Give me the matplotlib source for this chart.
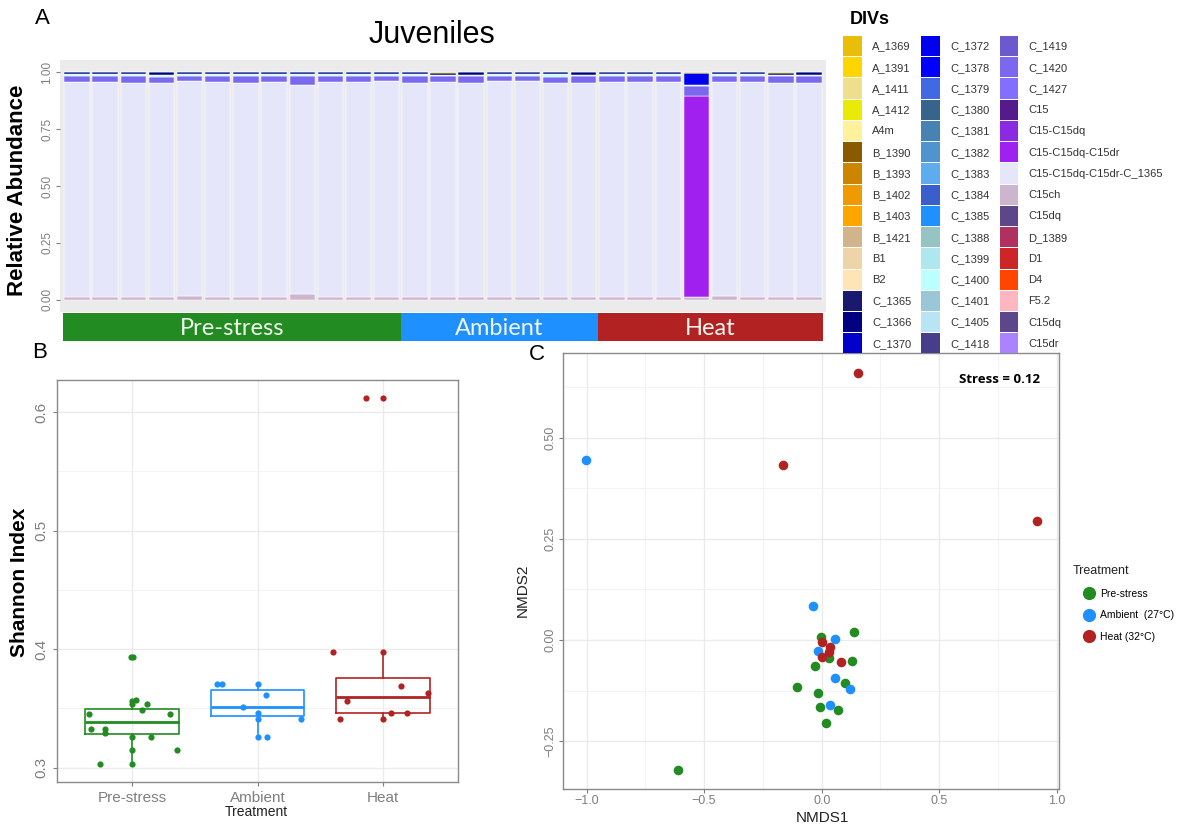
import numpy as np
import matplotlib.pyplot as plt
from matplotlib.patches import Patch
from matplotlib.lines import Line2D

plt.rcParams['font.family'] = ['Liberation Sans', 'DejaVu Sans']

W, H = 1179, 827

# ---------------- data : panel A (relative abundance of DIVs) ----------------
div_names = ['A_1369', 'A_1391', 'A_1411', 'A_1412', 'A4m', 'B_1390', 'B_1393', 'B_1402',
             'B_1403', 'B_1421', 'B1', 'B2', 'C_1365', 'C_1366', 'C_1370',
             'C_1372', 'C_1378', 'C_1379', 'C_1380', 'C_1381', 'C_1382', 'C_1383', 'C_1384',
             'C_1385', 'C_1388', 'C_1399', 'C_1400', 'C_1401', 'C_1405', 'C_1418',
             'C_1419', 'C_1420', 'C_1427', 'C15', 'C15-C15dq', 'C15-C15dq-C15dr',
             'C15-C15dq-C15dr-C_1365', 'C15ch', 'C15dq', 'D_1389', 'D1', 'D4', 'F5.2',
             'C15dq', 'C15dr']
div_colors = ['#E8BE0A', '#FFD500', '#EEDF8C', '#EAEA08', '#FFF29A', '#8B5A00', '#CD8500', '#EE9A00',
              '#FFA500', '#D2B48C', '#EED5A8', '#FFE4B5', '#191970', '#000080', '#0000CD',
              '#0000EE', '#0000FF', '#4169E1', '#36648B', '#4682B4', '#4F94CD', '#5CACEE', '#3A5FCD',
              '#1E90FF', '#96C4C4', '#AEE8EE', '#BBFFFF', '#9AC6D6', '#B8E4F4', '#483D8B',
              '#6A5ACD', '#7B68EE', '#836FFF', '#551A8B', '#8A2BE2', '#A020F0',
              '#E6E6FA', '#CDB5CD', '#5D478B', '#B03060', '#CD2626', '#FF4500', '#FFB6C1',
              '#5D478B', '#AB82FF']

# 27 juvenile samples: 12 pre-stress, 7 ambient, 8 heat
group_names = ['Pre-stress', 'Ambient', 'Heat']
group_counts = [12, 7, 8]
group_colors = ['#228B22', '#1E90FF', '#B22222']

c15ch = [0.013, 0.013, 0.013, 0.015, 0.017, 0.011, 0.015, 0.015, 0.025, 0.013, 0.013, 0.015,
         0.013, 0.015, 0.013, 0.013, 0.015, 0.013, 0.015,
         0.013, 0.013, 0.013, 0.015, 0.017, 0.015, 0.013, 0.015]
c15_c1365 = [0.943, 0.945, 0.939, 0.935, 0.943, 0.947, 0.939, 0.941, 0.919, 0.943, 0.945, 0.947,
             0.941, 0.940, 0.941, 0.947, 0.945, 0.937, 0.937,
             0.945, 0.943, 0.943, 0.000, 0.941, 0.941, 0.939, 0.939]
c15_dq_dr = [0, 0, 0, 0, 0, 0, 0, 0, 0, 0, 0, 0,
             0, 0, 0, 0, 0, 0, 0,
             0, 0, 0, 0.882, 0, 0, 0, 0]
c1420 = [0.028, 0.026, 0.032, 0.030, 0.024, 0.026, 0.030, 0.028, 0.040, 0.028, 0.026, 0.022,
         0.030, 0.026, 0.028, 0.024, 0.024, 0.030, 0.030,
         0.026, 0.028, 0.028, 0.040, 0.026, 0.028, 0.030, 0.028]
c1400 = [0.006, 0.006, 0.006, 0.006, 0.006, 0.006, 0.006, 0.006, 0.006, 0.006, 0.006, 0.006,
         0.006, 0.006, 0.006, 0.006, 0.006, 0.010, 0.006,
         0.006, 0.006, 0.006, 0.006, 0.006, 0.006, 0.006, 0.006]
c1372 = [0, 0, 0, 0, 0, 0, 0, 0, 0, 0, 0, 0,
         0, 0, 0, 0, 0, 0, 0,
         0, 0, 0, 0.051, 0, 0, 0, 0]
c1366 = [0.010, 0.010, 0.010, 0.014, 0.010, 0.010, 0.010, 0.010, 0.010, 0.010, 0.010, 0.010,
         0.010, 0.010, 0.012, 0.010, 0.010, 0.010, 0.012,
         0.010, 0.010, 0.010, 0.000, 0.010, 0.010, 0.008, 0.012]
a1391 = [0, 0, 0, 0, 0, 0, 0, 0, 0, 0, 0, 0,
         0, 0.003, 0, 0, 0, 0, 0,
         0, 0, 0, 0.006, 0, 0, 0.004, 0]

# bottom -> top
stack = [('C15ch', c15ch), ('C15-C15dq-C15dr-C_1365', c15_c1365), ('C15-C15dq-C15dr', c15_dq_dr),
         ('C_1420', c1420), ('C_1400', c1400), ('C_1372', c1372), ('C_1366', c1366), ('A_1391', a1391)]

# ---------------- data : panel B (Shannon index) ----------------
pre_jit = [-0.348, -0.327, -0.255, -0.215, -0.215, -0.010, 0.008, 0.0, 0.0, 0.032, 0.0, 0.0, 0.0,
           0.077, 0.120, 0.149, 0.305, 0.356]
pre_val = [0.3456, 0.3323, 0.3031, 0.3330, 0.3297, 0.393, 0.393, 0.3560, 0.3537, 0.3570, 0.3259,
           0.3146, 0.3031, 0.3486, 0.3537, 0.3259, 0.3452, 0.3146]
amb_jit = [-0.320, -0.287, 0.0, 0.064, -0.112, 0.0, 0.0, 0.351, 0.0, 0.075]
amb_val = [0.3710, 0.3704, 0.3710, 0.3612, 0.3514, 0.3466, 0.3410, 0.3410, 0.3261, 0.3261]
heat_jit = [-0.135, 0.0, -0.394, 0.0, 0.146, -0.284, -0.340, 0.0, 0.066, 0.196, 0.359]
heat_val = [0.612, 0.612, 0.398, 0.398, 0.369, 0.3567, 0.3415, 0.3415, 0.346, 0.346, 0.3634]

box_q1 = [0.3287, 0.3435, 0.3461]
box_med = [0.3390, 0.3514, 0.3598]
box_q3 = [0.3497, 0.3657, 0.3761]
box_lo = [0.3031, 0.3261, 0.3420]
box_hi = [0.3570, 0.3704, 0.3980]

# ---------------- data : panel C (NMDS) ----------------
pre_x = [-0.612, 0.137, -0.003, 0.032, 0.130, -0.027, 0.098, -0.104, -0.016, -0.006, 0.069, 0.018]
pre_y = [-0.320, 0.0205, 0.007, -0.044, -0.053, -0.065, -0.105, -0.117, -0.130, -0.165, -0.172, -0.206]
amb_x = [-1.002, -0.036, 0.057, -0.014, 0.055, 0.122, 0.037]
amb_y = [0.444, 0.083, 0.003, -0.027, -0.095, -0.122, -0.160]
heat_x = [0.156, -0.165, 0.917, 0.003, 0.035, 0.029, 0.003, 0.082]
heat_y = [0.660, 0.433, 0.293, -0.004, -0.016, -0.029, -0.041, -0.054]
nmds_labels = ['Pre-stress', 'Ambient  (27°C)', 'Heat (32°C)']

fig = plt.figure(figsize=(W / 100, H / 100), dpi=100)


def px_axes(x0, y0, x1, y1):
    return fig.add_axes([x0 / W, 1 - y1 / H, (x1 - x0) / W, (y1 - y0) / H])


def ftext(x, y, s, **kw):
    fig.text(x / W, 1 - y / H, s, **kw)


tick_grey = '#7F7F7F'
border = '#8A8A8A'

# ---------------- panel A ----------------
axA = px_axes(60, 60, 826, 312)
axA.set_facecolor('#EBEBEB')
n = sum(group_counts)
xs = np.arange(1, n + 1)
bottom = np.zeros(n)
col_of = dict(zip(div_names, div_colors))
for name, vals in stack:
    vals = np.array(vals)
    axA.bar(xs, vals, 0.9, bottom=bottom, color=col_of[name], edgecolor='white', linewidth=0.35)
    bottom += vals
axA.set_xlim(0.4, n + 0.6)
axA.set_ylim(-0.053, 1.053)
axA.set_xticks([])
axA.set_yticks([0, 0.25, 0.5, 0.75, 1.0])
axA.set_yticklabels(['0.00', '0.25', '0.50', '0.75', '1.00'], rotation=90, va='center')
axA.tick_params(axis='y', colors=tick_grey, labelsize=8.5, length=3, pad=2)
for s in axA.spines.values():
    s.set_visible(False)

axS = px_axes(60, 313, 826, 341)
starts = np.cumsum(group_counts) - np.array(group_counts) + 0.5
axS.bar(starts, 1, width=group_counts, align='edge', color=group_colors)
for st, cnt, g in zip(starts, group_counts, group_names):
    axS.text(st + cnt / 2, 0.45, g, ha='center', va='center', color='#F2F7EE',
             fontsize=17, family=['Lato', 'DejaVu Sans'])
axS.set_xlim(0.4, n + 0.6)
axS.set_ylim(0, 1)
axS.axis('off')

ftext(432, 35, 'Juveniles', ha='center', va='center', fontsize=22)
ftext(42, 19, 'A', ha='center', va='center', fontsize=16)
ftext(18, 190, 'Relative Abundance', rotation=90, ha='center', va='center',
      fontsize=16, fontweight='bold')

# DIV legend
ftext(850, 20, 'DIVs', ha='left', va='center', fontsize=13, fontweight='bold')
handles = [Patch(facecolor=c, edgecolor='none') for c in div_colors]
fig.legend(handles, div_names, ncol=3, loc='upper left', bbox_to_anchor=(843 / W, 1 - 36 / H),
           frameon=False, fontsize=8, handlelength=1.7, handleheight=2.41, labelspacing=0.1,
           handletextpad=0.9, columnspacing=0.9, borderpad=0, borderaxespad=0,
           labelcolor='#333333')

# ---------------- panel B ----------------
axB = px_axes(57, 380, 458, 782)
stats = [dict(med=m, q1=a, q3=b, whislo=lo, whishi=hi, fliers=[])
         for m, a, b, lo, hi in zip(box_med, box_q1, box_q3, box_lo, box_hi)]
bp = axB.bxp(stats, positions=[1, 2, 3], widths=0.75, showcaps=False, showfliers=False,
             manage_ticks=False)
for i, c in enumerate(group_colors):
    bp['boxes'][i].set(color=c, lw=1.2)
    bp['medians'][i].set(color=c, lw=2.0)
    bp['whiskers'][2 * i].set(color=c, lw=1.2)
    bp['whiskers'][2 * i + 1].set(color=c, lw=1.2)

for pos, jit, val, c in zip([1, 2, 3], [pre_jit, amb_jit, heat_jit], [pre_val, amb_val, heat_val],
                            group_colors):
    axB.scatter(pos + np.array(jit), val, s=20, color=c, zorder=3, linewidths=0)

axB.set_xlim(0.4, 3.6)
axB.set_ylim(0.288, 0.627)
axB.set_yticks([0.3, 0.4, 0.5, 0.6])
axB.set_yticks([0.35, 0.45, 0.55], minor=True)
axB.set_xticks([1, 2, 3])
axB.set_xticklabels(group_names)
axB.grid(True, which='major', color='#EBEBEB', lw=1.0)
axB.grid(True, which='minor', axis='y', color='#F3F3F3', lw=0.8)
axB.set_axisbelow(True)
axB.set_yticklabels(['0.3', '0.4', '0.5', '0.6'], rotation=90, va='center')
axB.tick_params(axis='both', which='major', colors=tick_grey, labelsize=11, length=3)
axB.tick_params(axis='y', which='minor', length=0)
for s in axB.spines.values():
    s.set_color(border)
    s.set_linewidth(1.0)

ftext(40, 353, 'B', ha='center', va='center', fontsize=16)
ftext(20, 582, 'Shannon Index', rotation=90, ha='center', va='center', fontsize=15, fontweight='bold')
ftext(256, 812, 'Treatment', ha='center', va='center', fontsize=10, color='#222222')

# ---------------- panel C ----------------
axC = px_axes(563, 353, 1059, 789)
axC.set_xlim(-1.100, 1.009)
axC.set_ylim(-0.368, 0.709)
axC.set_xticks([-1.0, -0.5, 0.0, 0.5, 1.0])
axC.set_xticks([-0.75, -0.25, 0.25, 0.75], minor=True)
axC.set_yticks([-0.25, 0.0, 0.25, 0.5])
axC.set_yticks([-0.125, 0.125, 0.375, 0.625], minor=True)
axC.set_yticklabels(['−0.25', '0.00', '0.25', '0.50'], rotation=90, va='center')
axC.grid(True, which='major', color='#EBEBEB', lw=1.0)
axC.grid(True, which='minor', color='#F3F3F3', lw=0.8)
axC.set_axisbelow(True)
axC.tick_params(axis='both', which='major', colors=tick_grey, labelsize=9, length=3, pad=1.5)
axC.tick_params(which='minor', length=0)
for s in axC.spines.values():
    s.set_color(border)
    s.set_linewidth(1.0)

for xv, yv, c in zip([pre_x, amb_x, heat_x], [pre_y, amb_y, heat_y], group_colors):
    axC.scatter(xv, yv, s=48, color=c, zorder=3, linewidths=0)

axC.text(0.881, 0.94, 'Stress = 0.12', transform=axC.transAxes, ha='center', va='center',
         fontsize=9.5, fontweight='bold', family=['Open Sans', 'DejaVu Sans'])
ftext(537, 355, 'C', ha='center', va='center', fontsize=16)
ftext(822, 818, 'NMDS1', ha='center', va='center', fontsize=11, color='#222222')
ftext(523, 590, 'NMDS2', rotation=90, ha='center', va='center', fontsize=11, color='#222222')

ftext(1073, 571, 'Treatment', ha='left', va='center', fontsize=9, color='#222222')
leg_handles = [Line2D([], [], marker='o', ls='', color=c, markersize=8.5) for c in group_colors]
fig.legend(leg_handles, nmds_labels, loc='upper left',
           bbox_to_anchor=(1080.5 / W, 1 - 589 / H), frameon=False, fontsize=7.5,
           labelspacing=1.1, handletextpad=0.3, borderpad=0, borderaxespad=0,
           handlelength=1.6)

fig.savefig('out.png', dpi=100)
